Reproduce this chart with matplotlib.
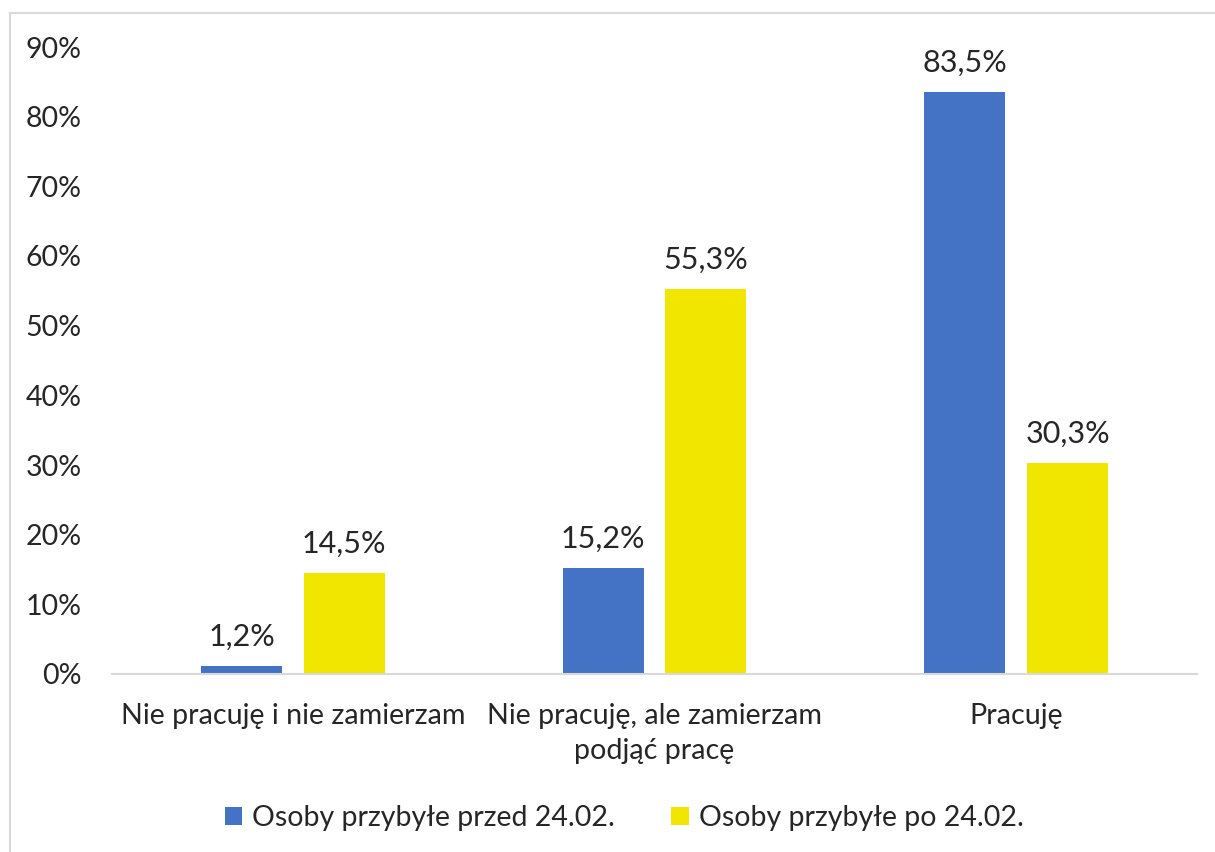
import matplotlib
matplotlib.use("Agg")
import matplotlib.pyplot as plt
from matplotlib.lines import Line2D
from matplotlib.patches import Patch
import numpy as np

categories = ["Nie pracuję i nie zamierzam", "Nie pracuję, ale zamierzam\npodjąć pracę", "Pracuję"]
series_names = ["Osoby przybyłe przed 24.02.", "Osoby przybyłe po 24.02."]
before = [1.2, 15.2, 83.5]
after = [14.5, 55.3, 30.3]
yticks = [0, 10, 20, 30, 40, 50, 60, 70, 80, 90]

BLUE = "#4472C4"
YELLOW = "#F0E600"
TEXT = "#262626"
GRID = "#D9D9D9"

plt.rcParams["font.family"] = ["Lato", "DejaVu Sans"]

fig = plt.figure(figsize=(12.15, 8.52), dpi=100)
ax = fig.add_axes([112 / 1215, 1 - 674 / 852, (1197 - 112) / 1215, (674 - 47) / 852])

x = np.arange(len(categories))
width = 0.224
offset = 0.142
b1 = ax.bar(x - offset, before, width, color=BLUE, label=series_names[0])
b2 = ax.bar(x + offset, after, width, color=YELLOW, label=series_names[1])

for bars, vals in ((b1, before), (b2, after)):
    for rect, v in zip(bars, vals):
        ax.annotate(f"{v:.1f}%".replace(".", ","),
                    (rect.get_x() + rect.get_width() / 2, v),
                    xytext=(0, 14.5), textcoords="offset points",
                    ha="center", va="baseline", fontsize=22, color=TEXT)

ax.set_xlim(-0.5, 2.5)
ax.set_ylim(0, 90)
ax.set_yticks(yticks)
ax.set_yticklabels([f"{t}%" for t in yticks])
ax.set_xticks(x)
ax.set_xticklabels(categories, linespacing=1.4)
ax.tick_params(axis="y", length=0, pad=22, labelsize=20.5, labelcolor=TEXT)
ax.tick_params(axis="x", length=0, pad=21, labelsize=20.6, labelcolor=TEXT)
for lbl in ax.get_xticklabels():
    lbl.set_verticalalignment("top")

for s in ("top", "right", "left"):
    ax.spines[s].set_visible(False)
ax.spines["bottom"].set_color(GRID)
ax.spines["bottom"].set_linewidth(1.5)

handles = [Patch(facecolor=BLUE), Patch(facecolor=YELLOW)]
fig.legend(handles, series_names, loc="center", bbox_to_anchor=(624 / 1215, 1 - 818 / 852),
           ncol=2, frameon=False, fontsize=20.5, handlelength=0.6, handleheight=0.6,
           handletextpad=0.35, columnspacing=2.0, labelcolor=TEXT)

# chart-area frame (top and left edges)
fig.add_artist(Line2D([10 / 1215, 1.0], [1 - 13 / 852, 1 - 13 / 852], color=GRID, lw=1.5))
fig.add_artist(Line2D([10 / 1215, 10 / 1215], [0.0, 1 - 13 / 852], color=GRID, lw=1.5))

fig.savefig("out.png", dpi=100)
